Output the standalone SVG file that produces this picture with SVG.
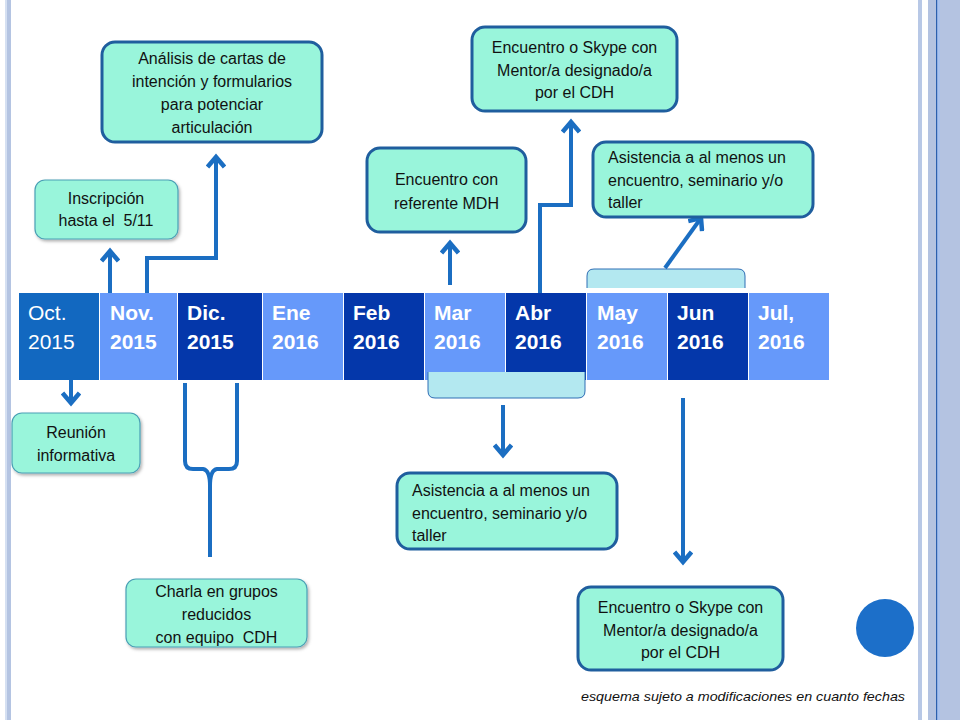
<svg xmlns="http://www.w3.org/2000/svg" width="960" height="720" viewBox="0 0 960 720">
<defs>
<style>
.bx{fill:#99f5db;stroke:#1f5e9e;stroke-width:3}
.sb{fill:#99f5db;stroke:#4aa0b5;stroke-width:1.2;filter:url(#sh)}
.t{font-family:"Liberation Sans",Arial,sans-serif;font-size:16px;fill:#111}
.c{text-anchor:middle}
.m{font-family:"Liberation Sans",Arial,sans-serif;font-size:21px;fill:#fff;font-weight:bold}
.lt{fill:#6699fa}
.dk{fill:#0437aa}
.ar{fill:none;stroke:#1b6ec2;stroke-width:4}
.br{fill:#b3e8f0;stroke:#2f6eb5;stroke-width:1}
</style>
<filter id="sh" x="-10%" y="-10%" width="130%" height="140%">
<feDropShadow dx="1.5" dy="2" stdDeviation="1.5" flood-color="#000" flood-opacity="0.3"/>
</filter>
<marker id="ah" viewBox="0 0 20 20" refX="13" refY="10" markerWidth="20" markerHeight="20" markerUnits="userSpaceOnUse" orient="auto">
<path d="M3,1.5 L13,10 L3,18.5" fill="none" stroke="#1b6ec2" stroke-width="4.5"/>
</marker>
</defs>
<rect width="960" height="720" fill="#fff"/>
<g id="borders">
<rect x="5" y="0" width="6" height="720" fill="#b4c4e2"/>
<rect x="5" y="0" width="2" height="720" fill="#d5e0f2"/>
<rect x="918" y="0" width="4" height="720" fill="#b8c8e6"/>
<rect x="928" y="0" width="32" height="720" fill="#b4c3e1"/>
<rect x="937" y="0" width="3" height="720" fill="#a9c2ee"/>
<rect x="936" y="0" width="1.2" height="720" fill="#2b5fae"/>
</g>
<g id="bracket-top">
<path class="br" d="M587,293 V276 Q587,269 594,269 H738 Q745,269 745,276 V293" />
<rect x="586" y="288" width="160" height="5" fill="#fff"/>
</g>
<g id="timeline">
<rect x="19" y="293" width="811" height="87" fill="#fff"/>
<rect x="19" y="293" width="80" height="87" fill="#1268c0"/>
<rect x="100" y="293" width="77" height="87" class="lt"/>
<rect x="178" y="293" width="84" height="87" class="dk"/>
<rect x="263" y="293" width="80" height="87" class="lt"/>
<rect x="344" y="293" width="80" height="87" class="dk"/>
<rect x="425" y="293" width="80" height="87" class="lt"/>
<rect x="506" y="293" width="80" height="87" class="dk"/>
<rect x="587" y="293" width="80" height="87" class="lt"/>
<rect x="668" y="293" width="80" height="87" class="dk"/>
<rect x="749" y="293" width="80" height="87" class="lt"/>
<text class="m" x="28" y="320" style="font-weight:normal">Oct.</text>
<text class="m" x="28" y="349" style="font-weight:normal">2015</text>
<text class="m" x="110" y="320">Nov.</text><text class="m" x="110" y="349">2015</text>
<text class="m" x="187" y="320">Dic.</text><text class="m" x="187" y="349">2015</text>
<text class="m" x="272" y="320">Ene</text><text class="m" x="272" y="349">2016</text>
<text class="m" x="353" y="320">Feb</text><text class="m" x="353" y="349">2016</text>
<text class="m" x="434" y="320">Mar</text><text class="m" x="434" y="349">2016</text>
<text class="m" x="515" y="320">Abr</text><text class="m" x="515" y="349">2016</text>
<text class="m" x="597" y="320">May</text><text class="m" x="597" y="349">2016</text>
<text class="m" x="677" y="320">Jun</text><text class="m" x="677" y="349">2016</text>
<text class="m" x="758" y="320">Jul,</text><text class="m" x="758" y="349">2016</text>
</g>
<g id="bracket-bottom">
<path class="br" d="M428,372 V391 Q428,398 435,398 H578 Q585,398 585,391 V372" />
</g>
<g id="connectors">
<path class="ar" d="M71,380 V403" marker-end="url(#ah)"/>
<path class="ar" d="M110,293 V251" marker-end="url(#ah)"/>
<path class="ar" d="M147,293 V258 H216 V157" marker-end="url(#ah)"/>
<path class="ar" d="M185,383 V461 Q185,469 193,469 H203 Q210,470 210,486 V557 M237,383 V461 Q237,469 229,469 H217 Q210,470 210,486"/>
<path class="ar" d="M450,285 V243" marker-end="url(#ah)"/>
<path class="ar" d="M540,293 V205 H571 V122" marker-end="url(#ah)"/>
<path class="ar" d="M665,268 L701,218" marker-end="url(#ah)"/>
<path class="ar" d="M503,405 V455" marker-end="url(#ah)"/>
<path class="ar" d="M683,398 V562" marker-end="url(#ah)"/>
</g>
<g id="n-inscripcion">
<rect class="sb" x="35" y="180" width="143" height="59" rx="10"/>
<text class="t c" x="106" y="204">Inscripción</text>
<text class="t c" x="106" y="226" xml:space="preserve">hasta el  5/11</text>
</g>
<g id="n-analisis">
<rect class="bx" x="102" y="42" width="220" height="100" rx="13"/>
<text class="t c" x="212" y="64">Análisis de cartas de</text>
<text class="t c" x="212" y="87">intención y formularios</text>
<text class="t c" x="212" y="110">para potenciar</text>
<text class="t c" x="212" y="133">articulación</text>
</g>
<g id="n-reunion">
<rect class="sb" x="12" y="413" width="128" height="60" rx="10"/>
<text class="t c" x="76" y="438">Reunión</text>
<text class="t c" x="76" y="461">informativa</text>
</g>
<g id="n-charla">
<rect class="sb" x="126" y="579" width="181" height="68" rx="10"/>
<text class="t c" x="216.5" y="597">Charla en grupos</text>
<text class="t c" x="216.5" y="620">reducidos</text>
<text class="t c" x="216.5" y="643" xml:space="preserve">con equipo  CDH</text>
</g>
<g id="n-referente">
<rect class="bx" x="367" y="148" width="159" height="84" rx="13"/>
<text class="t c" x="446.5" y="185">Encuentro con</text>
<text class="t c" x="446.5" y="209">referente MDH</text>
</g>
<g id="n-skype-top">
<rect class="bx" x="472" y="27" width="205" height="84" rx="13"/>
<text class="t c" x="574.5" y="53">Encuentro o Skype con</text>
<text class="t c" x="574.5" y="76">Mentor/a designado/a</text>
<text class="t c" x="574.5" y="98">por el CDH</text>
</g>
<g id="n-asistencia-top">
<rect class="bx" x="593" y="142" width="220" height="75" rx="13"/>
<text class="t" x="608" y="163">Asistencia a al menos un</text>
<text class="t" x="608" y="186">encuentro, seminario y/o</text>
<text class="t" x="608" y="208">taller</text>
</g>
<g id="n-asistencia-bottom">
<rect class="bx" x="397" y="473" width="220" height="76" rx="13"/>
<text class="t" x="412" y="496">Asistencia a al menos un</text>
<text class="t" x="412" y="519">encuentro, seminario y/o</text>
<text class="t" x="412" y="541">taller</text>
</g>
<g id="n-skype-bottom">
<rect class="bx" x="578" y="587" width="205" height="83" rx="13"/>
<text class="t c" x="680.5" y="613">Encuentro o Skype con</text>
<text class="t c" x="680.5" y="636">Mentor/a designado/a</text>
<text class="t c" x="680.5" y="658">por el CDH</text>
</g>
<g id="decor">
<circle cx="885" cy="628" r="29" fill="#1c6fc9"/>
<text x="905" y="701" text-anchor="end" font-family="'Liberation Sans',Arial,sans-serif" font-size="13" font-style="italic" fill="#111" textLength="324" lengthAdjust="spacingAndGlyphs">esquema sujeto a modificaciones en cuanto fechas</text>
</g>
</svg>
